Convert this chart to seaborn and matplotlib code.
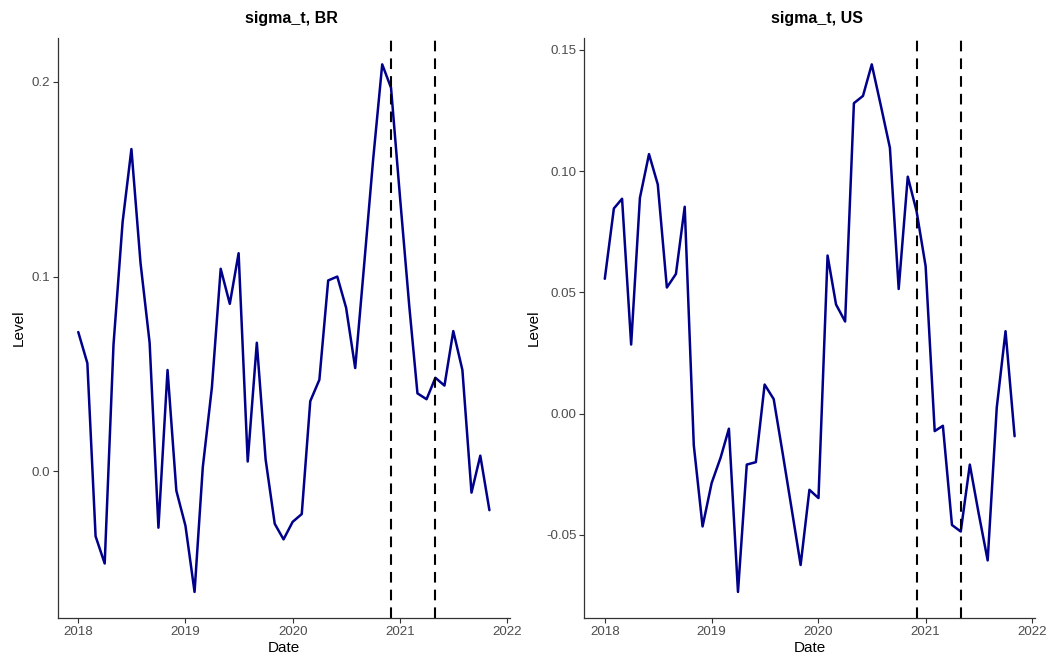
import numpy as np
import pandas as pd
import matplotlib
matplotlib.use("Agg")
import matplotlib.pyplot as plt
import matplotlib.dates as mdates
import seaborn as sns

# ---------------- data ----------------
dates = pd.date_range("2018-01-01", "2021-11-01", freq="MS")

br_level = [0.0715, 0.0555, -0.0334, -0.0474, 0.065, 0.128, 0.1655, 0.107, 0.066, -0.029,
            0.052, -0.010, -0.028, -0.062, 0.002, 0.043, 0.104, 0.086, 0.112, 0.005,
            0.066, 0.006, -0.027, -0.035, -0.026, -0.022, 0.036, 0.047, 0.098, 0.100,
            0.084, 0.053, 0.107, 0.160, 0.209, 0.197, 0.140, 0.085, 0.040, 0.037,
            0.048, 0.044, 0.072, 0.052, -0.011, 0.008, -0.020]

us_level = [0.0556, 0.0846, 0.0886, 0.0285, 0.089, 0.107, 0.0945, 0.052, 0.0576, 0.0853,
            -0.013, -0.0465, -0.0286, -0.018, -0.0062, -0.0735, -0.021, -0.020, 0.012, 0.006,
            -0.0166, -0.039, -0.0624, -0.0314, -0.0348, 0.0652, 0.045, 0.038, 0.128, 0.131,
            0.144, 0.127, 0.1096, 0.0514, 0.0977, 0.0835, 0.0608, -0.0072, -0.005, -0.0459,
            -0.0486, -0.021, -0.041, -0.0605, 0.0025, 0.034, -0.0093]

break_dates = ["2020-12-01", "2021-05-01"]
panel_titles = ["sigma_t, BR", "sigma_t, US"]
year_ticks = ["2018", "2019", "2020", "2021", "2022"]
br_yticks = [0.0, 0.1, 0.2]
br_ylabels = ["0.0", "0.1", "0.2"]
us_yticks = [-0.05, 0.00, 0.05, 0.10, 0.15]
us_ylabels = ["-0.05", "0.00", "0.05", "0.10", "0.15"]

# ---------------- style ----------------
sns.set_theme(style="ticks")
plt.rcParams["font.family"] = ["Liberation Sans", "DejaVu Sans"]
plt.rcParams["axes.unicode_minus"] = False

fig = plt.figure(figsize=(10.53, 6.62), dpi=100)
ax_br = fig.add_axes([0.0548, 0.066, 0.4295, 0.8766])
ax_us = fig.add_axes([0.5549, 0.066, 0.4281, 0.8766])

panels = [
    (ax_br, br_level, br_yticks, br_ylabels, panel_titles[0]),
    (ax_us, us_level, us_yticks, us_ylabels, panel_titles[1]),
]

for ax, vals, yt, yl, title in panels:
    df = pd.DataFrame({"Date": dates, "Level": vals})
    sns.lineplot(data=df, x="Date", y="Level", ax=ax, color="#00008B", linewidth=1.8)
    for bd in break_dates:
        ax.axvline(pd.Timestamp(bd), color="black", linewidth=1.5, dashes=(5.1, 3.4))
    # ggplot-like 5% expansion
    x0, x1 = mdates.date2num(dates[0]), mdates.date2num(dates[-1])
    dx = (x1 - x0) * 0.05
    ax.set_xlim(x0 - dx, x1 + dx)
    y0, y1 = min(vals), max(vals)
    dy = (y1 - y0) * 0.05
    ax.set_ylim(y0 - dy, y1 + dy)
    ax.set_xticks([mdates.date2num(pd.Timestamp(y + "-01-01")) for y in year_ticks])
    ax.set_xticklabels(year_ticks)
    ax.set_yticks(yt)
    ax.set_yticklabels(yl)
    ax.set_title(title, fontsize=11.5, fontweight="bold", pad=11, color="black", x=0.516)
    ax.set_xlabel("Date", fontsize=11, color="black", labelpad=2)
    ax.set_ylabel("Level", fontsize=11, color="black", labelpad=4)
    ax.tick_params(axis="both", labelsize=9.6, labelcolor="#4D4D4D", color="#333333",
                   length=3.5, width=0.8, pad=2)
    for s in ["top", "right"]:
        ax.spines[s].set_visible(False)
    for s in ["left", "bottom"]:
        ax.spines[s].set_color("#333333")
        ax.spines[s].set_linewidth(0.9)
    ax.grid(False)

fig.savefig("out.png", dpi=100, facecolor="white")
